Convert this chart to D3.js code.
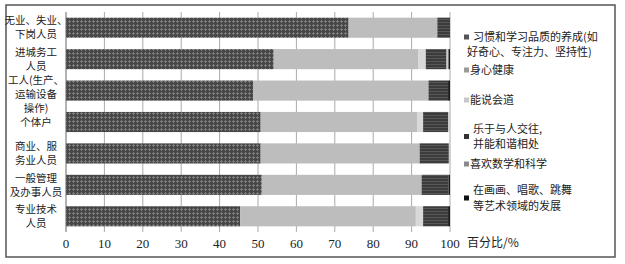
<!DOCTYPE html>
<html>
<head>
<meta charset="utf-8">
<script src="https://cdn.jsdelivr.net/npm/d3@7"></script>
<style>
  body { margin: 0; background: #fff; }
  svg text { fill: #222; }
</style>
</head>
<body>
<div id="chart"></div>
<script>
// categories (top to bottom) and their label lines
const categories = ["无业失业下岗人员", "进城务工人员", "工人", "个体户", "商业服务业人员", "一般管理及办事人员", "专业技术人员"]
const categoryLines = [
  ["无业、失业、", "下岗人员"],
  ["进城务工", "人员"],
  ["工人(生产、", "运输设备", "操作)"],
  ["个体户"],
  ["商业、服", "务业人员"],
  ["一般管理", "及办事人员"],
  ["专业技术", "人员"]
]

// series (stack order left to right)
const seriesNames = ["习惯", "身心健康", "能说会道", "乐于交往", "数学科学", "艺术"]
const legendLines = [
  ["习惯和学习品质的养成(如", "好奇心、专注力、坚持性)"],
  ["身心健康"],
  ["能说会道"],
  ["乐于与人交往,", "并能和谐相处"],
  ["喜欢数学和科学"],
  ["在画画、唱歌、跳舞", "等艺术领域的发展"]
]

// percentage values per category, one array per series
const habit   = [73.6, 54.1, 48.7, 50.7, 50.7, 51.0, 45.4]
const health  = [23.1, 37.7, 45.7, 40.7, 41.4, 41.6, 45.7]
const speak   = [0.0, 1.9, 0.0, 1.6, 0.0, 0.0, 1.9]
const social  = [3.3, 5.4, 5.1, 6.5, 7.6, 7.0, 6.5]
const science = [0.0, 0.5, 0.0, 0.5, 0.3, 0.0, 0.0]
const art     = [0.0, 0.4, 0.5, 0.0, 0.0, 0.4, 0.5]

const xTicks = [0, 10, 20, 30, 40, 50, 60, 70, 80, 90, 100]

const W = 625, H = 264
const plot = {left: 66, right: 450, top: 12, bottom: 232}

const svg = d3.select("#chart").append("svg")
  .attr("width", W).attr("height", H)

// textures for the scanned look
const defs = svg.append("defs")
const p1 = defs.append("pattern").attr("id", "weave")
  .attr("patternUnits", "userSpaceOnUse").attr("width", 4).attr("height", 4)
p1.append("rect").attr("width", 4).attr("height", 4).attr("fill", "#474747")
p1.append("path").attr("d", "M0 1.5H3M1.5 0V3")
  .attr("stroke", "#858585").attr("stroke-width", 0.8)
const p4 = defs.append("pattern").attr("id", "stripes")
  .attr("patternUnits", "userSpaceOnUse").attr("width", 6).attr("height", 3)
p4.append("rect").attr("width", 6).attr("height", 3).attr("fill", "#3c3c3c")
p4.append("path").attr("d", "M0 1.5H6").attr("stroke", "#575757").attr("stroke-width", 1)

const fills = ["url(#weave)", "#bdbdbd", "#d9d9d9", "url(#stripes)", "#cdcdcd", "#1c1c1c"]
const swatch = ["#555", "#9a9a9a", "#c8c8c8", "#333", "#8a8a8a", "#111"]

// frame
svg.append("rect").attr("x", 6).attr("y", 5).attr("width", 609).attr("height", 252)
  .attr("fill", "none").attr("stroke", "#555").attr("stroke-width", 1.5)

const x = d3.scaleLinear().domain([0, 100]).range([plot.left, plot.right])
const y = d3.scaleBand().domain(categories).range([plot.top, plot.bottom])
  .paddingInner(0.36).paddingOuter(0.18)

// gridlines
svg.append("g").selectAll("line").data(xTicks.slice(1)).join("line")
  .attr("x1", d => x(d)).attr("x2", d => x(d))
  .attr("y1", plot.top).attr("y2", plot.bottom)
  .attr("stroke", "#aaa").attr("stroke-width", 1)

// stacked bars
const table = categories.map((c, i) => ({
  cat: c, "习惯": habit[i], "身心健康": health[i], "能说会道": speak[i],
  "乐于交往": social[i], "数学科学": science[i], "艺术": art[i]
}))
const stacked = d3.stack().keys(seriesNames)(table)

svg.append("g").selectAll("g").data(stacked).join("g")
  .attr("fill", (d, i) => fills[i])
  .selectAll("rect").data(d => d).join("rect")
    .attr("x", d => x(d[0]))
    .attr("width", d => x(d[1]) - x(d[0]))
    .attr("y", d => y(d.data.cat))
    .attr("height", y.bandwidth())

// y axis line
svg.append("line").attr("x1", plot.left).attr("x2", plot.left)
  .attr("y1", plot.top).attr("y2", plot.bottom)
  .attr("stroke", "#666").attr("stroke-width", 1)

// category labels
const lh = 14
svg.append("g").selectAll("text").data(categories).join("text")
  .attr("text-anchor", "middle")
  .style("font-family", "'Noto Sans CJK SC'").style("font-size", "10.5px")
  .each(function(c, i) {
    const lines = categoryLines[i]
    const cy = y(c) + y.bandwidth() / 2 + (lines.length === 3 ? 4 : 0)
    d3.select(this).selectAll("tspan").data(lines).join("tspan")
      .attr("x", 36)
      .attr("y", (d, j) => cy + (j - (lines.length - 1) / 2) * lh)
      .attr("dy", "0.35em")
      .text(d => d)
  })

// x tick labels
svg.append("g").selectAll("text").data(xTicks).join("text")
  .attr("x", d => x(d)).attr("y", 243).attr("dy", "0.35em")
  .attr("text-anchor", "middle")
  .style("font-family", "'Liberation Serif'").style("font-size", "13px")
  .text(d => d)

svg.append("text").attr("x", 467).attr("y", 243).attr("dy", "0.35em")
  .style("font-family", "'Noto Sans CJK SC'").style("font-size", "12px")
  .text("百分比/%")

// legend
const legendY = [44.5, 70, 100, 136.5, 164, 198]
const leg = svg.append("g").selectAll("g").data(legendLines).join("g")
leg.append("rect")
  .attr("x", 464).attr("y", (d, i) => (i === 0 ? 37 : legendY[i]) - 2.5)
  .attr("width", 5).attr("height", 5)
  .attr("fill", (d, i) => swatch[i])
leg.append("text")
  .style("font-family", "'Noto Sans CJK SC'").style("font-size", "11px")
  .each(function(lines, i) {
    d3.select(this).selectAll("tspan").data(lines).join("tspan")
      .attr("x", (d, j) => i === 0 ? (j === 0 ? 473 : 467) : (lines.length === 2 ? 473 : 470))
      .attr("y", (d, j) => legendY[i] + (j - (lines.length - 1) / 2) * 15.5)
      .attr("dy", "0.35em")
      .text(d => d)
  })
</script>
</body>
</html>
